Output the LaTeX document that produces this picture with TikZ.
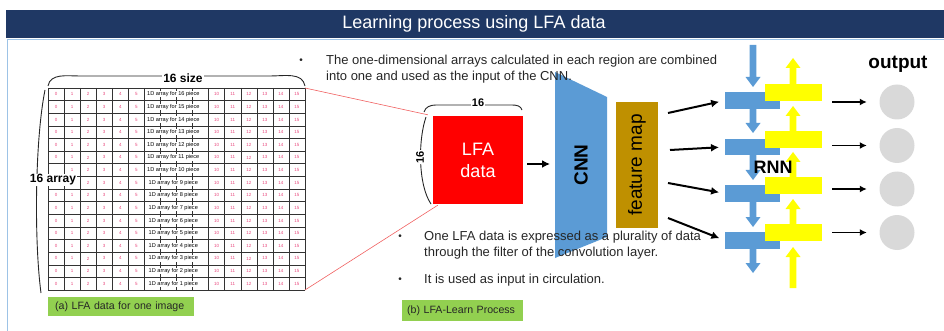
\documentclass[tikz,border=0pt]{standalone}
\usepackage{fontspec}
\setmainfont{Liberation Sans}
\usetikzlibrary{arrows.meta,calc}

\definecolor{navy}{HTML}{1F3864}
\definecolor{framecol}{HTML}{9DC3E6}
\definecolor{numpink}{HTML}{E8467C}
\definecolor{cnnblue}{HTML}{5B9BD5}
\definecolor{fmgold}{HTML}{BF9000}
\definecolor{rnnyellow}{HTML}{FFFF00}
\definecolor{outgray}{HTML}{D9D9D9}
\definecolor{labgreen}{HTML}{92D050}
\definecolor{bodytext}{HTML}{262626}
\definecolor{linkred}{HTML}{F06060}

% font size in px (1px = 1pt here)
\newcommand\pxsize[1]{\fontsize{#1}{#1}\selectfont}

% block arrows for the RNN chain: colour, x, tail y, tip y
\newcommand\blkdown[4]{%
  \fill[#1] ({#2-3.4},#3) -- ({#2+3.4},#3) -- ({#2+3.4},{#4-10}) -- ({#2+7.5},{#4-10})
    -- (#2,#4) -- ({#2-7.5},{#4-10}) -- ({#2-3.4},{#4-10}) -- cycle;}
\newcommand\blkup[4]{%
  \fill[#1] ({#2-3.4},#3) -- ({#2+3.4},#3) -- ({#2+3.4},{#4+10}) -- ({#2+7.5},{#4+10})
    -- (#2,#4) -- ({#2-7.5},{#4+10}) -- ({#2-3.4},{#4+10}) -- cycle;}

\begin{document}
\begin{tikzpicture}[x=1pt,y=-1pt,
  gridline/.style={draw=black!80, line width=0.5pt},
  num/.style={text=numpink, font=\pxsize{4.5}, inner sep=0pt},
  midtxt/.style={fill=white, font=\pxsize{5.6}, inner sep=0.5pt},
  bracel/.style={draw=black!85, line width=0.9pt},
  boldlab/.style={font=\bfseries\pxsize{12}, fill=white, inner sep=1pt},
  linkline/.style={draw=linkred, line width=0.6pt},
  btxt/.style={text=bodytext, font=\fontsize{13}{16}\selectfont, align=left, inner sep=0pt},
  bul/.style={text=bodytext, font=\pxsize{10}, inner sep=0pt},
  greenlab/.style={fill=labgreen, text=bodytext, inner ysep=0pt, align=left},
  blkarrow/.style={draw=black, line width=2pt, -{Latex[length=8pt,width=8pt]}},
  outarrow/.style={draw=black, line width=1.5pt, -{Latex[length=7pt,width=7pt]}},
  rnnblock/.style={fill=cnnblue, minimum width=55pt, minimum height=16.5pt, inner sep=0pt},
  rnnyel/.style={fill=rnnyellow, minimum width=57pt, minimum height=17pt, inner sep=0pt},
  outcircle/.style={circle, fill=outgray, minimum size=35pt, inner sep=0pt}
]
\useasboundingbox (0,0) rectangle (944,331);

% ---- title bar and frame
\fill[navy] (6,10) rectangle (944,38);
\node[text=white, font=\pxsize{18}] (title) at (474,24) {Learning process using LFA data};
\draw[framecol, line width=0.8pt] (944,39.5) -- (7,39.5) -- (7,331);

% ---- 16 x 16 table of one image
\def\gx{48}\def\gy{88}\def\cw{16.0625}\def\rh{12.625}
\node[minimum width=257pt, minimum height=202pt, inner sep=0pt, outer sep=0pt,
      anchor=north west] (grid) at (\gx,\gy) {};
\foreach \i in {0,...,16}
  \draw[gridline] ({\gx+\i*\cw},\gy) -- ({\gx+\i*\cw},{\gy+16*\rh});
\foreach \i in {0,...,16}
  \draw[gridline] (\gx,{\gy+\i*\rh}) -- ({\gx+16*\cw},{\gy+\i*\rh});
\foreach \r in {0,...,15}{
  \pgfmathtruncatemacro\n{16-\r}
  \foreach \c in {0,...,5}{
    % cells hidden behind the "16 array" label are left empty
    \pgfmathtruncatemacro\hid{(\r==6 && \c==0) || (\r==7 && \c<2)}
    \ifnum\hid=0
      \node[num] (n\r-\c) at ({\gx+(\c+0.5)*\cw},{\gy+(\r+0.5)*\rh}) {\c};
    \fi
  }
  \foreach \c in {10,...,15}
    \node[num] (n\r-\c) at ({\gx+(\c+0.5)*\cw},{\gy+(\r+0.5)*\rh}) {\c};
  \node[midtxt] (m\r) at ({\gx+7.8*\cw},{\gy+(\r+0.5)*\rh}) {1D array for \n\ piece};
}

% braces and size labels of the table
\draw[bracel] (48,86) to[out=80,in=180] (80,76) -- (270,76) to[out=0,in=100] (305,86);
\node[boldlab] (sizelab) at (183,78) {16 size};
\draw[bracel] (45,90) .. controls (35,140) and (34,240) .. (41,293);
\node[boldlab] (arrlab) at (53,180) {16 array};

\node[greenlab, anchor=north west, minimum width=146pt, minimum height=19pt,
      inner xsep=7pt, text width=132pt, font=\pxsize{10.6}] (laba) at (48,297)
      {(a) LFA data for one image};

% ---- LFA data block
\node[fill=red, text=white, minimum width=90pt, minimum height=88pt, inner sep=0pt,
      align=center, font=\fontsize{18}{22}\selectfont] (lfa) at (478,160) {LFA\\data};
\draw[linkline] (grid.north east) -- ([xshift=-5pt,yshift=1pt]lfa.north west);
\draw[linkline] (grid.south east) -- ([xshift=5pt,yshift=-1pt]lfa.south west);

\draw[bracel] (424,112) to[out=75,in=180] (436,105) -- (512,105) to[out=0,in=105] (522,110);
\node[boldlab, font=\bfseries\pxsize{11}] (w16) at (478,103) {16};
\draw[bracel] (426,117) .. controls (418,140) and (418,185) .. (431,204);
\node[boldlab, font=\bfseries\pxsize{11}, rotate=90] (h16) at (420,157) {16};

% ---- CNN and feature map
\fill[cnnblue] (555,72) -- (607,97) -- (607,237) -- (555,258) -- cycle;
\node[font=\bfseries\pxsize{19}, rotate=90] (cnn) at (581,165) {CNN};
\coordinate (cnnin) at (555,164);
\draw[blkarrow] ([xshift=4pt]lfa.east |- cnnin) -- ([xshift=-5pt]cnnin);

\node[fill=fmgold, minimum width=42pt, minimum height=126pt, inner sep=0pt] (fm) at (637,165) {};
\node[font=\pxsize{19}, rotate=90] (fmtxt) at (fm.center) {feature map};

% ---- RNN chain
\foreach \k/\yb in {1/92, 2/138.5, 3/185, 4/232}{
  \node[rnnblock, anchor=north west] (b\k) at (725,\yb) {};
}
\foreach \k/\yb in {1/84, 2/131, 3/177, 4/224}{
  \node[rnnyel, anchor=north west] (y\k) at (765,\yb) {};
}
\blkdown{cnnblue}{753}{45}{87}
\blkdown{cnnblue}{753}{108.5}{133}
\blkdown{cnnblue}{753}{155}{180}
\blkdown{cnnblue}{753}{201.5}{227}
\blkdown{cnnblue}{753}{248.5}{273}
\blkup{rnnyellow}{793}{84}{58}
\blkup{rnnyellow}{793}{131}{106}
\blkup{rnnyellow}{793}{177}{152}
\blkup{rnnyellow}{793}{224}{199}
\blkup{rnnyellow}{793}{288}{247}
\node[font=\bfseries\pxsize{18}] (rnn) at (773,167) {RNN};

\coordinate (f1) at (668,113);
\coordinate (f2) at (670,150);
\coordinate (f3) at (668,183);
\coordinate (f4) at (668,218);
\foreach \k in {1,...,4}
  \draw[blkarrow, shorten >=6pt] (f\k) -- (b\k.west);

% ---- outputs
\node[font=\bfseries\pxsize{19}] (outlab) at (898,64) {output};
\foreach \k/\yo in {1/102, 2/145.5, 3/189, 4/232.5}{
  \node[outcircle] (o\k) at (897,\yo) {};
  \coordinate (a\k) at (832,\yo);
  \draw[outarrow, shorten >=12.5pt] (a\k) -- (o\k);
}

% ---- explanatory bullets
\node[bul] (d1) at (301,61) {•};
\node[btxt, anchor=west] (t1) at (326,69)
  {The one-dimensional arrays calculated in each region are combined\\into one and used as the input of the CNN.};
\node[bul] (d2) at (400,237) {•};
\node[btxt, anchor=west] (t2) at (424,245)
  {One LFA data is expressed as a plurality of data\\through the filter of the convolution layer.};
\node[bul] (d3) at (400,280) {•};
\node[btxt, anchor=west] (t3) at (424,280) {It is used as input in circulation.};

\node[greenlab, anchor=north west, minimum width=121pt, minimum height=21pt,
      inner xsep=5pt, text width=111pt, font=\pxsize{10.6}] (labb) at (402,300)
      {(b) LFA-Learn Process};
\end{tikzpicture}
\end{document}
